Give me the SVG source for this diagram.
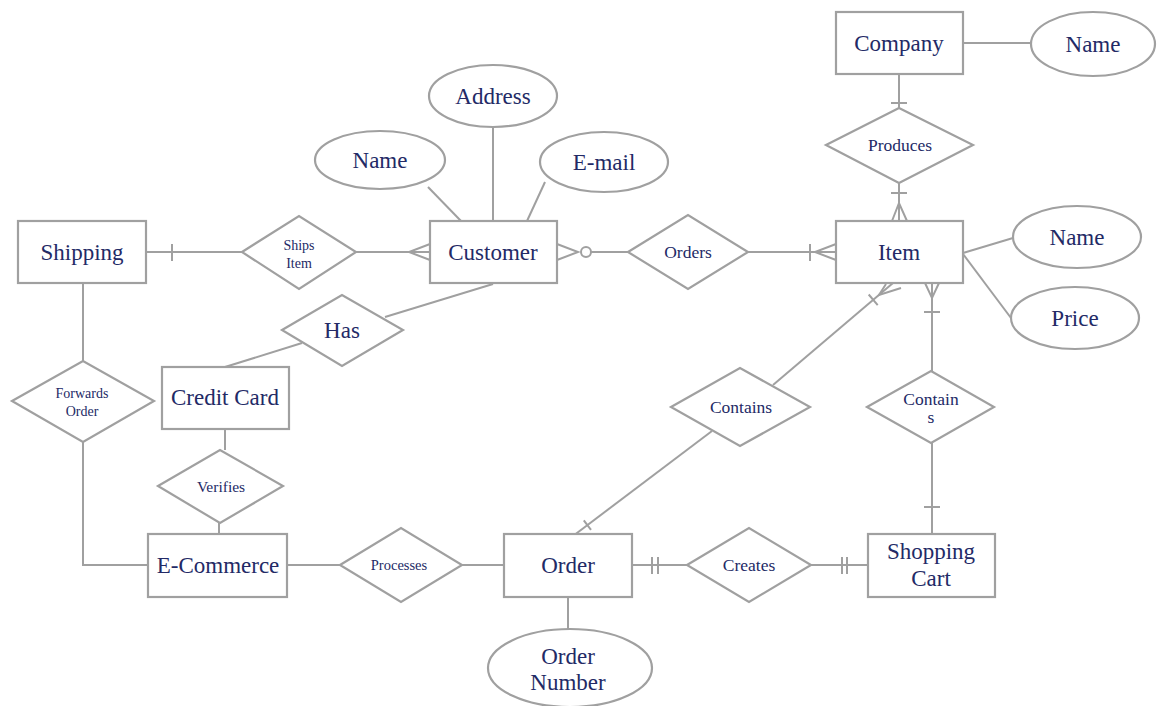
<svg xmlns="http://www.w3.org/2000/svg" width="1157" height="706" viewBox="0 0 1157 706">
<style>
.s{fill:#fff;stroke:#a0a0a0;stroke-width:2.2}
.c line,.c path,.c polyline{stroke:#a0a0a0;stroke-width:2;fill:none}
text{font-family:"Liberation Serif","Times New Roman",serif;fill:#232a66;text-anchor:middle}
.b{font-size:23px}
.m{font-size:17.5px}
.sm{font-size:14px}
</style>
<rect width="1157" height="706" fill="#fff"/>
<g class="c" id="connectors">
<line x1="146" y1="252" x2="242" y2="252"/>
<line x1="172" y1="244" x2="172" y2="261"/>
<line x1="356" y1="252" x2="430" y2="252"/>
<polyline points="430,244 409,252 430,260"/>
<polyline points="557,244 578,252 557,260"/>
<circle cx="586" cy="252" r="5" fill="#fff" stroke="#a0a0a0" stroke-width="2"/>
<line x1="591" y1="252" x2="628" y2="252"/>
<line x1="748" y1="252" x2="836" y2="252"/>
<line x1="810" y1="244" x2="810" y2="261"/>
<polyline points="836,244 815,252 836,260"/>
<line x1="493" y1="127" x2="493" y2="221"/>
<line x1="428" y1="187" x2="461" y2="221"/>
<line x1="545" y1="182" x2="527" y2="221"/>
<line x1="493" y1="284" x2="385" y2="317"/>
<line x1="302" y1="343" x2="225" y2="367"/>
<line x1="83" y1="283" x2="83" y2="361"/>
<polyline points="83,442 83,565 148,565"/>
<line x1="225" y1="429" x2="225" y2="450"/>
<line x1="219" y1="523" x2="219" y2="534"/>
<line x1="287" y1="565" x2="340" y2="565"/>
<line x1="462" y1="565" x2="504" y2="565"/>
<line x1="632" y1="565" x2="687" y2="565"/>
<line x1="652" y1="557" x2="652" y2="574"/>
<line x1="658" y1="557" x2="658" y2="574"/>
<line x1="811" y1="565" x2="868" y2="565"/>
<line x1="842" y1="557" x2="842" y2="574"/>
<line x1="847" y1="557" x2="847" y2="574"/>
<line x1="568" y1="597" x2="568" y2="629"/>
<line x1="963" y1="43" x2="1031" y2="43"/>
<line x1="899" y1="74" x2="899" y2="108"/>
<line x1="891" y1="103" x2="907" y2="103"/>
<line x1="899" y1="183" x2="899" y2="221"/>
<line x1="891" y1="193" x2="907" y2="193"/>
<polyline points="892,221 899,203 907,221"/>
<line x1="963" y1="253" x2="1013" y2="238"/>
<line x1="963" y1="254" x2="1011" y2="318"/>
<line x1="773" y1="385" x2="893" y2="283"/>
<polyline points="886,284 879,295 901,288"/>
<line x1="877.7" y1="305.1" x2="868.7" y2="294.5"/>
<line x1="712" y1="431" x2="573" y2="536"/>
<line x1="591" y1="529.9" x2="583.8" y2="520.3"/>
<line x1="932" y1="283" x2="932" y2="371"/>
<polyline points="925,283 932,298 939,283"/>
<line x1="924" y1="312" x2="940" y2="312"/>
<line x1="932" y1="443" x2="932" y2="534"/>
<line x1="924" y1="507" x2="940" y2="507"/>
</g>
<g id="shipping"><rect class="s" x="18" y="221" width="128" height="62"/><text class="b" x="82" y="260">Shipping</text></g>
<g id="ships-item"><polygon class="s" points="242,252 299,216 356,252 299,289"/><text class="sm" x="299" y="250">Ships</text><text class="sm" x="299" y="268">Item</text></g>
<g id="customer"><rect class="s" x="430" y="221" width="127" height="62"/><text class="b" x="493" y="260">Customer</text></g>
<g id="customer-name"><ellipse class="s" cx="380" cy="160" rx="65" ry="29"/><text class="b" x="380" y="168">Name</text></g>
<g id="address"><ellipse class="s" cx="493" cy="96" rx="64" ry="31"/><text class="b" x="493" y="104">Address</text></g>
<g id="email"><ellipse class="s" cx="604" cy="162" rx="64" ry="30"/><text class="b" x="604" y="170">E-mail</text></g>
<g id="orders"><polygon class="s" points="628,252 688,215 748,252 688,289"/><text class="m" x="688" y="258">Orders</text></g>
<g id="item"><rect class="s" x="836" y="221" width="127" height="62"/><text class="b" x="899" y="260">Item</text></g>
<g id="company"><rect class="s" x="836" y="12" width="127" height="62"/><text class="b" x="899" y="51">Company</text></g>
<g id="company-name"><ellipse class="s" cx="1093" cy="44" rx="62" ry="32"/><text class="b" x="1093" y="52">Name</text></g>
<g id="produces"><polygon class="s" points="826,145 899,108 973,145 899,183"/><text class="m" x="900" y="151">Produces</text></g>
<g id="item-name"><ellipse class="s" cx="1077" cy="237" rx="64" ry="31"/><text class="b" x="1077" y="245">Name</text></g>
<g id="price"><ellipse class="s" cx="1075" cy="318" rx="64" ry="31"/><text class="b" x="1075" y="326">Price</text></g>
<g id="has"><polygon class="s" points="282,330 342,295 403,330 342,366"/><text class="b" x="342" y="338">Has</text></g>
<g id="credit-card"><rect class="s" x="162" y="367" width="127" height="62"/><text class="b" x="225" y="405">Credit Card</text></g>
<g id="forwards-order"><polygon class="s" points="12,401 83,361 154,401 83,442"/><text class="sm" x="82" y="398">Forwards</text><text class="sm" x="82" y="416">Order</text></g>
<g id="verifies"><polygon class="s" points="158,486 220,450 283,486 220,523"/><text class="sm" x="221" y="492" style="font-size:15.5px">Verifies</text></g>
<g id="ecommerce"><rect class="s" x="148" y="534" width="139" height="63"/><text class="b" x="218" y="573">E-Commerce</text></g>
<g id="processes"><polygon class="s" points="340,565 401,528 462,565 401,602"/><text class="sm" x="399" y="570" style="font-size:14.5px">Processes</text></g>
<g id="order"><rect class="s" x="504" y="534" width="128" height="63"/><text class="b" x="568" y="573">Order</text></g>
<g id="order-number"><ellipse class="s" cx="570" cy="668" rx="82" ry="39"/><text class="b" x="568" y="664">Order</text><text class="b" x="568" y="690">Number</text></g>
<g id="creates"><polygon class="s" points="687,565 749,528 811,565 749,602"/><text class="m" x="749" y="571">Creates</text></g>
<g id="shopping-cart"><rect class="s" x="868" y="534" width="127" height="63"/><text class="b" x="931" y="559">Shopping</text><text class="b" x="931" y="586">Cart</text></g>
<g id="contains-order"><polygon class="s" points="671,407 740,368 810,407 740,446"/><text class="m" x="741" y="413">Contains</text></g>
<g id="contains-cart"><polygon class="s" points="867,407 931,371 994,407 931,443"/><text class="m" x="931" y="405">Contain</text><text class="m" x="931" y="423">s</text></g>
</svg>
